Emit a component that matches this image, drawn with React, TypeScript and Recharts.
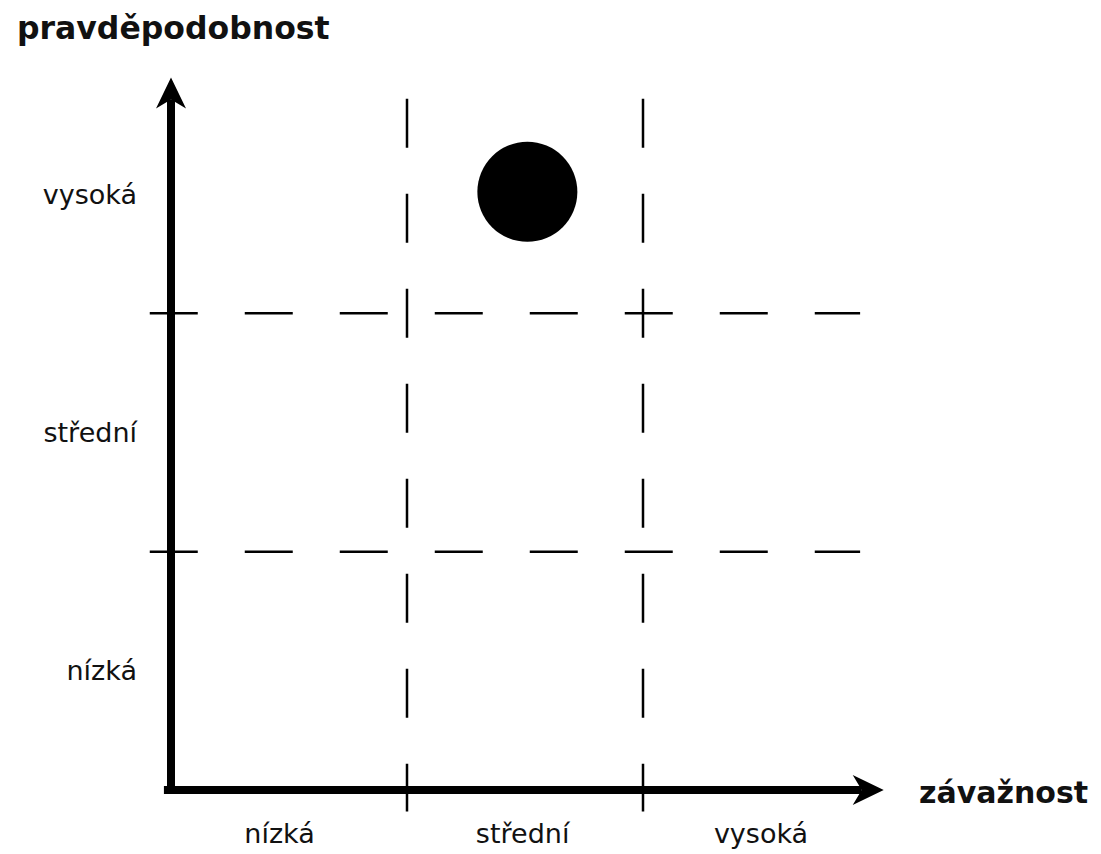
import { ReferenceLine, Scatter, ScatterChart, XAxis, YAxis } from 'recharts';

const severityLabels = ['nízká', 'střední', 'vysoká'];
const severityTicks = [0.46, 1.49, 2.5];
const probabilityLabels = ['nízká', 'střední', 'vysoká'];
const probabilityTicks = [0.5, 1.5, 2.5];

const severityBounds = [1, 2];
const probabilityBounds = [1, 2];
const gridExtentX = [-0.09, 2.92];
const gridExtentY = [2.9, -0.09];

const risks = [{ x: 1.51, y: 2.51 }];

const FONT = '"DejaVu Sans", sans-serif';

const ArrowAxis = (props: any) => {
	const { x1, y1, x2, y2 } = props;
	const len = Math.hypot(x2 - x1, y2 - y1);
	const ux = (x2 - x1) / len;
	const uy = (y2 - y1) / len;
	const px = -uy;
	const py = ux;
	const head = 31;
	const half = 15;
	const notch = 22;
	const bx = x2 - ux * head;
	const by = y2 - uy * head;
	const points = [
		[x2, y2],
		[bx + px * half, by + py * half],
		[x2 - ux * notch, y2 - uy * notch],
		[bx - px * half, by - py * half],
	]
		.map((p) => p.join(','))
		.join(' ');
	return (
		<g>
			<line
				x1={x1}
				y1={y1}
				x2={x2 - ux * notch}
				y2={y2 - uy * notch}
				stroke='#000'
				strokeWidth={8}
			/>
			<polygon points={points} fill='#000' />
		</g>
	);
};

const RiskChart = () => {
	return (
		<ScatterChart
			width={1093}
			height={846}
			margin={{ top: 67, right: 222, left: 0, bottom: 0 }}
		>
			<XAxis
				type='number'
				dataKey='x'
				domain={[0, 3]}
				ticks={severityTicks}
				tickFormatter={(v: number) => severityLabels[severityTicks.indexOf(v)]}
				axisLine={false}
				tickLine={false}
				tickSize={0}
				tickMargin={34}
				height={64}
				interval={0}
				tick={{ fill: '#111', fontSize: 27, fontFamily: FONT }}
				label={(p: any) => (
					<text
						x={p.viewBox.x + p.viewBox.width + 40}
						y={p.viewBox.y + 13}
						fontFamily={FONT}
						fontWeight='bold'
						fontSize={30}
						fill='#111'
					>
						závažnost
					</text>
				)}
			/>
			<YAxis
				type='number'
				dataKey='y'
				domain={[0, 3]}
				ticks={probabilityTicks}
				tickFormatter={(v: number) => probabilityLabels[probabilityTicks.indexOf(v)]}
				axisLine={false}
				tickLine={false}
				tickSize={0}
				tickMargin={34}
				width={163}
				interval={0}
				tick={{ fill: '#111', fontSize: 27, fontFamily: FONT }}
				label={(p: any) => (
					<text
						x={p.viewBox.x + 9}
						y={p.viewBox.y - 36}
						fontFamily={FONT}
						fontWeight='bold'
						fontSize={31.5}
						fill='#111'
					>
						pravděpodobnost
					</text>
				)}
			/>
			{severityBounds.map((v) => (
				<ReferenceLine
					key={'sx' + v}
					segment={[
						{ x: v, y: gridExtentY[0] },
						{ x: v, y: gridExtentY[1] },
					]}
					ifOverflow='visible'
					stroke='#000'
					strokeWidth={2.5}
					strokeDasharray='49 46'
				/>
			))}
			{probabilityBounds.map((v) => (
				<ReferenceLine
					key={'py' + v}
					segment={[
						{ x: gridExtentX[0], y: v },
						{ x: gridExtentX[1], y: v },
					]}
					ifOverflow='visible'
					stroke='#000'
					strokeWidth={2.5}
					strokeDasharray='48 47'
				/>
			))}
			<ReferenceLine
				segment={[
					{ x: 0, y: -0.015 },
					{ x: 0, y: 2.99 },
				]}
				ifOverflow='visible'
				shape={ArrowAxis}
			/>
			<ReferenceLine
				segment={[
					{ x: -0.03, y: 0 },
					{ x: 3.02, y: 0 },
				]}
				ifOverflow='visible'
				shape={ArrowAxis}
			/>
			<Scatter
				data={risks}
				fill='#000'
				isAnimationActive={false}
				shape={(p: any) => <circle cx={p.cx} cy={p.cy} r={50} fill='#000' />}
			/>
		</ScatterChart>
	);
};

export default function App() {
	return <RiskChart />;
}
